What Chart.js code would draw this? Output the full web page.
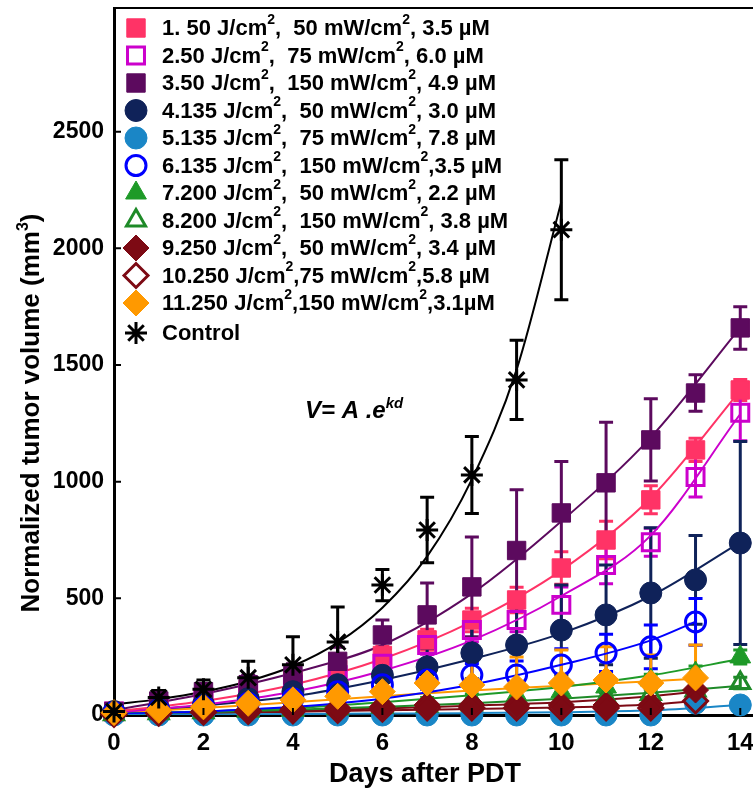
<!DOCTYPE html>
<html>
<head>
<meta charset="utf-8">
<script src="https://cdn.jsdelivr.net/npm/chart.js@4.4.1/dist/chart.umd.min.js"></script>
<style>
  html, body { margin: 0; padding: 0; background: #fff; overflow: hidden; }
  #wrap { position: absolute; left: 0; top: -7px; width: 800px; height: 800px; }
</style>
</head>
<body>
<div id="wrap"><canvas id="chart" width="800" height="800"></canvas></div>
<script>
(function () {

  'use strict';

  // Days after PDT.
  var DAYS = [0, 1, 2, 3, 4, 5, 6, 7, 8, 9, 10, 11, 12, 13, 14];
  var DAYS_13 = [0, 1, 2, 3, 4, 5, 6, 7, 8, 9, 10, 11, 12, 13];
  var CONTROL_DAYS = [0, 1, 2, 3, 4, 5, 6, 7, 8, 9, 10];
  var FIT_DAYS = [0, 2, 4, 6, 8, 10, 12, 14];
  var FIT_DAYS_13 = [0, 2, 4, 6, 8, 10, 12, 13];

  var X_TICKS = [0, 2, 4, 6, 8, 10, 12, 14];
  var Y_TICKS = [0, 500, 1000, 1500, 2000, 2500];

  var s1Values = [15, 45, 75, 110, 150, 195, 255, 322, 407, 493, 630, 750, 922, 1136, 1393];
  var s1Errors = [5, 10, 15, 20, 25, 30, 40, 45, 50, 55, 70, 80, 60, 50, 45];
  var s1Fit = [15, 60, 130, 240, 400, 620, 930, 1390];

  var s2Values = [15, 40, 65, 95, 130, 170, 220, 300, 364, 407, 472, 643, 740, 1020, 1295];
  var s2Errors = [5, 10, 15, 20, 25, 30, 35, 40, 50, 50, 77, 80, 60, 86, 120];
  var s2Fit = [10, 45, 100, 190, 320, 510, 770, 1290];

  var s3Values = [15, 60, 100, 130, 170, 230, 343, 429, 549, 705, 866, 995, 1179, 1380, 1659];
  var s3Errors = [5, 20, 30, 40, 50, 60, 64, 137, 214, 260, 220, 260, 176, 78, 91];
  var s3Fit = [20, 90, 180, 300, 520, 830, 1190, 1660];

  var s4Values = [15, 25, 45, 70, 100, 130, 170, 206, 266, 300, 364, 429, 523, 579, 737];
  var s4Errors = [5, 10, 15, 20, 30, 40, 60, 80, 111, 163, 193, 214, 280, 190, 435];
  var s4Fit = [15, 40, 80, 150, 240, 350, 510, 740];

  var s5Values = [0, 0, 0, 0, 0, 0, 0, 0, 0, 0, 0, 0, 0, 51, 43];
  var s5Errors = [0, 0, 0, 0, 0, 0, 0, 0, 0, 0, 0, 0, 0, 30, 10];
  var s5Fit = [0, 2, 4, 6, 8, 12, 20, 43];

  var s6Values = [10, 20, 35, 50, 70, 100, 130, 150, 171, 171, 214, 266, 292, 399];
  var s6Errors = [5, 10, 10, 15, 20, 25, 30, 40, 50, 60, 70, 80, 94, 100];
  var s6Fit = [5, 15, 35, 70, 130, 215, 320, 400];

  var s7Values = [5, 10, 15, 25, 30, 40, 50, 60, 70, 85, 100, 120, 150, 180, 249];
  var s7Errors = [3, 5, 8, 10, 10, 12, 15, 15, 20, 20, 20, 25, 25, 30, 30];
  var s7Fit = [5, 15, 30, 55, 85, 120, 170, 240];

  var s8Values = [3, 8, 12, 18, 22, 28, 35, 40, 45, 55, 65, 75, 90, 105, 137];
  var s8Errors = [2, 5, 5, 8, 8, 10, 10, 12, 12, 15, 15, 20, 20, 20, 25];
  var s8Fit = [5, 12, 22, 35, 50, 70, 95, 125];

  var s9Values = [5, 10, 15, 20, 25, 30, 35, 43, 43, 43, 43, 43, 43, 107];
  var s9Errors = [3, 5, 8, 10, 10, 12, 15, 20, 20, 20, 20, 20, 20, 25];
  var s9Fit = [5, 10, 18, 28, 40, 55, 80, 100];

  var s10Values = [3, 8, 12, 15, 18, 20, 25, 30, 30, 30, 30, 30, 30, 60];
  var s10Errors = [2, 4, 5, 6, 8, 8, 10, 10, 10, 10, 12, 12, 12, 15];
  var s10Fit = [3, 8, 14, 20, 26, 32, 45, 60];

  var s11Values = [10, 20, 35, 50, 65, 80, 100, 137, 129, 120, 137, 150, 137, 159];
  var s11Errors = [5, 10, 20, 40, 50, 60, 70, 69, 115, 129, 142, 142, 120, 141];
  var s11Fit = [10, 30, 55, 80, 105, 125, 145, 155];

  var ctrlValues = [15, 75, 110, 160, 215, 313, 557, 793, 1029, 1436, 2080];
  var ctrlErrors = [5, 30, 40, 70, 120, 150, 67, 140, 165, 170, 300];
  var ctrlFit = [45, 68, 100, 145, 210, 310, 460, 680, 1010, 1480, 2200];

  var LABELS = [
    '1. 50 J/cm{2},  50 mW/cm{2}, 3.5 \u00b5M',
    '2.50 J/cm{2},  75 mW/cm{2}, 6.0 \u00b5M',
    '3.50 J/cm{2},  150 mW/cm{2}, 4.9 \u00b5M',
    '4.135 J/cm{2},  50 mW/cm{2}, 3.0 \u00b5M',
    '5.135 J/cm{2},  75 mW/cm{2}, 7.8 \u00b5M',
    '6.135 J/cm{2},  150 mW/cm{2},3.5 \u00b5M',
    '7.200 J/cm{2},  50 mW/cm{2}, 2.2 \u00b5M',
    '8.200 J/cm{2},  150 mW/cm{2}, 3.8 \u00b5M',
    '9.250 J/cm{2},  50 mW/cm{2}, 3.4 \u00b5M',
    '10.250 J/cm{2},75 mW/cm{2},5.8 \u00b5M',
    '11.250 J/cm{2},150 mW/cm{2},3.1\u00b5M',
    'Control'
  ];

  var FONT = '"Liberation Sans", Arial, sans-serif';

  // Canvas sits 7px above the page top, so text positions shift down by this.
  var DY = 7;

  // Marker style per series, in legend order.
  var SERIES = [
    { days: DAYS, v: s1Values, e: s1Errors, fd: FIT_DAYS, f: s1Fit, color: '#ff3366', style: 'rect', r: 13, open: false },
    { days: DAYS, v: s2Values, e: s2Errors, fd: FIT_DAYS, f: s2Fit, color: '#cc00cc', style: 'rect', r: 12, open: true },
    { days: DAYS, v: s3Values, e: s3Errors, fd: FIT_DAYS, f: s3Fit, color: '#5c0a5e', style: 'rect', r: 13, open: false },
    { days: DAYS, v: s4Values, e: s4Errors, fd: FIT_DAYS, f: s4Fit, color: '#0f2259', style: 'circle', r: 11, open: false },
    { days: DAYS, v: s5Values, e: s5Errors, fd: FIT_DAYS, f: s5Fit, color: '#1a86c6', style: 'circle', r: 11, open: false },
    { days: DAYS_13, v: s6Values, e: s6Errors, fd: FIT_DAYS_13, f: s6Fit, color: '#0000ff', style: 'circle', r: 10, open: true },
    { days: DAYS, v: s7Values, e: s7Errors, fd: FIT_DAYS, f: s7Fit, color: '#1e9a28', style: 'triangle', r: 12, open: false },
    { days: DAYS, v: s8Values, e: s8Errors, fd: FIT_DAYS, f: s8Fit, color: '#1e8a28', style: 'triangle', r: 11, open: true },
    { days: DAYS_13, v: s9Values, e: s9Errors, fd: FIT_DAYS_13, f: s9Fit, color: '#7d0a14', style: 'rectRot', r: 13, open: false },
    { days: DAYS_13, v: s10Values, e: s10Errors, fd: FIT_DAYS_13, f: s10Fit, color: '#7d0a14', style: 'rectRot', r: 12, open: true },
    { days: DAYS_13, v: s11Values, e: s11Errors, fd: FIT_DAYS_13, f: s11Fit, color: '#ff9900', style: 'rectRot', r: 13, open: false },
    { days: CONTROL_DAYS, v: ctrlValues, e: ctrlErrors, fd: CONTROL_DAYS, f: ctrlFit, color: '#000000', style: 'star', r: 11, open: true }
  ];

  function toPoints(xs, ys) {
    return ys.map(function (y, i) { return { x: xs[i], y: y }; });
  }

  /**
   * Draw text with {superscript} parts; returns the width drawn.
   */
  function richText(ctx, str, x, y, size, style, measureOnly) {
    var parts = str.split(/\{([^}]*)\}/);
    var cx = x;
    for (var i = 0; i < parts.length; i++) {
      var sup = i % 2 === 1;
      var fs = sup ? Math.round(size * 0.62) : size;
      ctx.font = style + ' ' + fs + 'px ' + FONT;
      if (!measureOnly) {
        ctx.fillText(parts[i], cx, sup ? y - size * 0.42 : y);
      }
      cx += ctx.measureText(parts[i]).width;
    }
    return cx - x;
  }

  // Later series sit on top of earlier ones; fitted curves under all markers.
  var datasets = [];
  SERIES.forEach(function (s, i) {
    datasets.push({
      label: 'pts' + i,
      data: toPoints(s.days, s.v),
      errors: s.e,
      showLine: false,
      pointStyle: s.style,
      pointRadius: s.r,
      pointBackgroundColor: s.open ? 'rgba(0,0,0,0)' : s.color,
      pointBorderColor: s.color,
      pointBorderWidth: s.open ? 3 : 1,
      borderColor: s.color,
      clip: false,
      order: 20 - i
    });
    datasets.push({
      label: 'fit' + i,
      data: toPoints(s.fd, s.f),
      showLine: true,
      pointRadius: 0,
      borderColor: s.color,
      borderWidth: 2,
      cubicInterpolationMode: 'monotone',
      order: 100
    });
  });

  var errorBars = {
    id: 'errorBars',
    beforeDatasetsDraw: function (chart) {
      var ctx = chart.ctx;
      var xs = chart.scales.x;
      var ys = chart.scales.y;
      ctx.save();
      ctx.lineWidth = 3;
      chart.data.datasets.forEach(function (ds) {
        if (!ds.errors) {
          return;
        }
        ctx.strokeStyle = ds.borderColor;
        ds.data.forEach(function (p, i) {
          var e = ds.errors[i];
          if (!e) {
            return;
          }
          var px = xs.getPixelForValue(p.x);
          var top = ys.getPixelForValue(p.y + e);
          var bot = ys.getPixelForValue(p.y - e);
          bot = Math.min(bot, chart.chartArea.bottom);
          ctx.beginPath();
          ctx.moveTo(px, top);
          ctx.lineTo(px, bot);
          ctx.moveTo(px - 7, top);
          ctx.lineTo(px + 7, top);
          if (bot < chart.chartArea.bottom) {
            ctx.moveTo(px - 7, bot);
            ctx.lineTo(px + 7, bot);
          }
          ctx.stroke();
        });
      });
      ctx.restore();
    }
  };

  var frame = {
    id: 'frame',
    afterDraw: function (chart) {
      var ctx = chart.ctx;
      var a = chart.chartArea;
      var xs = chart.scales.x;
      var ys = chart.scales.y;
      ctx.save();
      ctx.strokeStyle = '#000';
      ctx.lineWidth = 2;
      ctx.beginPath();
      ctx.moveTo(a.left - 1, a.top);
      ctx.lineTo(a.right + 20, a.top);
      // Inward tick marks.
      X_TICKS.forEach(function (v) {
        var px = xs.getPixelForValue(v);
        ctx.moveTo(px, a.bottom);
        ctx.lineTo(px, a.bottom - 7);
      });
      Y_TICKS.forEach(function (v) {
        var py = ys.getPixelForValue(v);
        ctx.moveTo(a.left, py);
        ctx.lineTo(a.left + 7, py);
      });
      ctx.stroke();

      // Axis titles.
      ctx.fillStyle = '#000';
      ctx.textBaseline = 'alphabetic';
      ctx.font = 'bold 27px ' + FONT;
      ctx.textAlign = 'center';
      ctx.fillText('Days after PDT', 425, 782 + DY);

      ctx.textAlign = 'left';
      var yTitle = 'Normalized tumor volume (mm{3})';
      ctx.save();
      ctx.translate(39, 413 + DY);
      ctx.rotate(-Math.PI / 2);
      var w = richText(ctx, yTitle, 0, 0, 26, 'bold', true);
      richText(ctx, yTitle, -w / 2, 0, 26, 'bold');
      ctx.restore();

      // Model annotation.
      richText(ctx, 'V= A .e{kd}', 305, 418 + DY, 24, 'italic bold');

      // Legend.
      SERIES.forEach(function (s, i) {
        var cy = (i < 11 ? 28 + i * 27.5 : 333) + DY;
        ctx.fillStyle = s.open ? '#ffffff' : s.color;
        ctx.strokeStyle = s.color;
        ctx.lineWidth = s.open ? 3 : 1;
        Chart.helpers.drawPoint(ctx, {
          pointStyle: s.style,
          radius: s.r,
          rotation: 0,
          borderWidth: s.open ? 3 : 1
        }, 136, cy);
        ctx.fillStyle = '#000';
        ctx.textBaseline = 'middle';
        richText(ctx, LABELS[i], 162, cy + 1, 22, 'bold');
      });
      ctx.restore();
    }
  };

  new Chart(document.getElementById('chart').getContext('2d'), {
    type: 'scatter',
    data: { datasets: datasets },
    plugins: [errorBars, frame],
    options: {
      responsive: false,
      animation: false,
      layout: { padding: { left: 0, right: 11, top: 1, bottom: 0 } },
      plugins: { legend: { display: false }, tooltip: { enabled: false } },
      scales: {
        x: {
          type: 'linear',
          min: 0,
          max: 15,
          afterFit: function (s) {
            s.height = 78;
            s.paddingLeft = 0;
            s.paddingRight = 0;
          },
          afterBuildTicks: function (s) {
            s.ticks = X_TICKS.map(function (v) { return { value: v }; });
          },
          border: { display: true, color: '#000', width: 3 },
          grid: { display: false, drawTicks: false },
          ticks: {
            color: '#000',
            padding: 14,
            maxRotation: 0,
            font: { family: FONT, size: 24, weight: 'bold' },
            callback: function (v) { return String(v); }
          }
        },
        y: {
          type: 'linear',
          min: 0,
          max: 3030,
          afterFit: function (s) {
            s.width = 114;
            s.paddingTop = 0;
            s.paddingBottom = 0;
          },
          afterBuildTicks: function (s) {
            s.ticks = Y_TICKS.map(function (v) { return { value: v }; });
          },
          border: { display: true, color: '#000', width: 3 },
          grid: { display: false, drawTicks: false },
          ticks: {
            color: '#000',
            padding: 10,
            font: { family: FONT, size: 23, weight: 'bold' },
            callback: function (v) { return String(v); }
          }
        }
      }
    }
  });

})();
</script>
</body>
</html>
